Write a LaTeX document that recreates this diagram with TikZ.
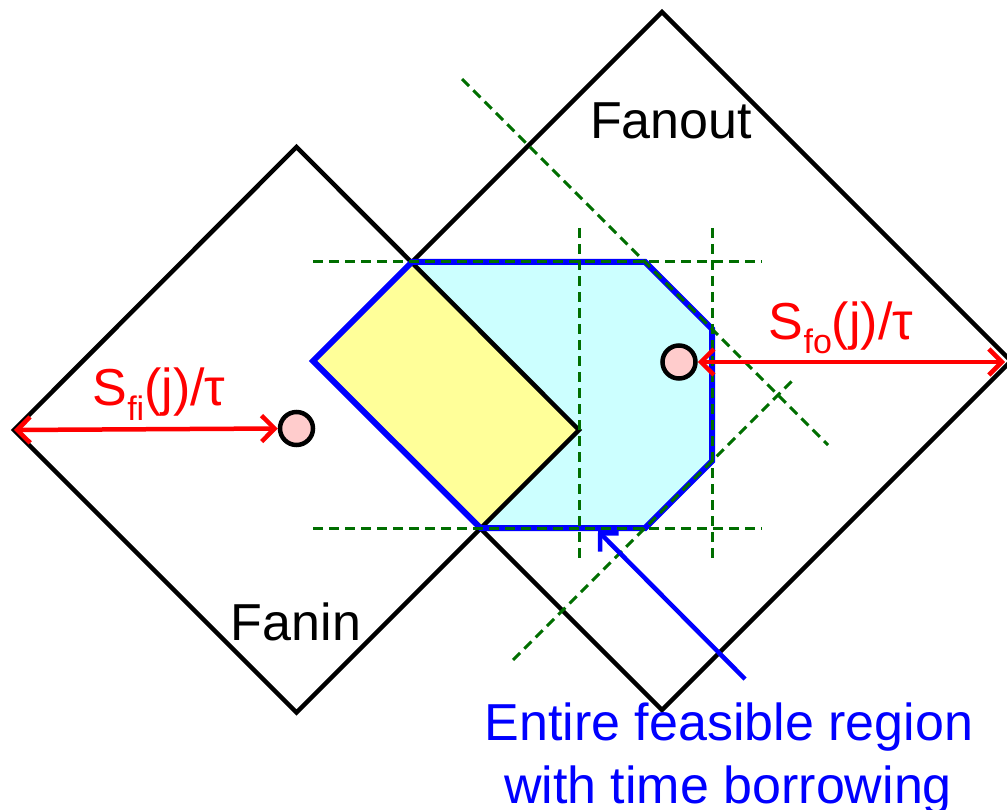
\documentclass[tikz,border=0pt]{standalone}
\usepackage{fontspec}
\setmainfont{Liberation Sans}
\usetikzlibrary{arrows.meta}
\definecolor{cyanfill}{RGB}{204,255,255}
\definecolor{yellowfill}{RGB}{255,255,153}
\definecolor{pinkfill}{RGB}{255,204,204}
\definecolor{dkgreen}{RGB}{0,110,0}
\tikzset{
  diamondline/.style={draw=black, line width=4.5pt, line join=miter},
  guide/.style={draw=dkgreen, line width=3pt, dash pattern=on 10pt off 6pt},
  regionline/.style={draw=blue, line width=6pt, line join=miter},
  dot/.style={circle, draw=black, fill=pinkfill, line width=4.5pt, minimum size=33pt, inner sep=0pt},
  redarrow/.style={draw=red, line width=4.5pt, {Straight Barb[length=13pt,width=26pt]}-{Straight Barb[length=13pt,width=26pt]}},
  bluearrow/.style={draw=blue, line width=4.5pt, -{Straight Barb[length=13pt,width=26pt]}},
  lbl/.style={font=\fontsize{52}{63}\selectfont, inner sep=0pt, anchor=base},
}
\newcommand{\subtxt}[1]{\raisebox{-14pt}{\fontsize{34}{34}\selectfont #1}}
\begin{document}
\begin{tikzpicture}[x=1pt,y=-1pt]
\useasboundingbox (0,0) rectangle (1007,810);
% coordinates
\coordinate (fiL) at (14,430);
\coordinate (fiT) at (296.5,147);
\coordinate (fiR) at (579,430);
\coordinate (fiB) at (296.5,712.5);
\coordinate (foL) at (313,361);
\coordinate (foT) at (662,12);
\coordinate (foR) at (1011,361);
\coordinate (foB) at (662,710);
\coordinate (p1) at (412,262);
\coordinate (p2) at (645,262);
\coordinate (p3) at (712,329);
\coordinate (p4) at (712,461);
\coordinate (p5) at (645,528);
\coordinate (p6) at (480.5,528);
% fills
\fill[cyanfill] (foL) -- (p1) -- (p2) -- (p3) -- (p4) -- (p5) -- (p6) -- cycle;
\fill[yellowfill] (foL) -- (p1) -- (fiR) -- (p6) -- cycle;
% diamonds
\draw[diamondline] (fiL) -- (fiT) -- (fiR) -- (fiB) -- cycle;
\draw[diamondline] (foL) -- (foT) -- (foR) -- (foB) -- cycle;
% region outline
\draw[regionline] (foL) -- (p1) -- (p2) -- (p3) -- (p4) -- (p5) -- (p6) -- cycle;
% guides
\coordinate (h1a) at (313,262); \coordinate (h1b) at (762,262);
\coordinate (h2a) at (313,528); \coordinate (h2b) at (762,528);
\coordinate (v1a) at (579,228); \coordinate (v1b) at (579,560);
\coordinate (v2a) at (712,228); \coordinate (v2b) at (712,560);
\coordinate (d1a) at (462,79);  \coordinate (d1b) at (828,445);
\coordinate (d2a) at (513,660); \coordinate (d2b) at (795,378);
\draw[guide] (h1a) -- (h1b);
\draw[guide] (h2a) -- (h2b);
\draw[guide] (v1a) -- (v1b);
\draw[guide] (v2a) -- (v2b);
\draw[guide] (d1a) -- (d1b);
\draw[guide] (d2a) -- (d2b);
% dots
\node[dot] (ci) at (296.5,428.5) {};
\node[dot] (co) at (679,362) {};
% red arrows
\coordinate (coR) at (1005,362);
\draw[redarrow] (fiL) -- (ci.west);
\draw[redarrow] (co.east) -- (coR);
% labels
\node[lbl, text=red] (sfi) at (159,406) {S\subtxt{fi}(j)/τ};
\node[lbl, text=red] (sfo) at (841,340) {S\subtxt{fo}(j)/τ};
\node[lbl] (fanout) at (671,139) {Fanout};
\node[lbl] (fanin) at (296,640) {Fanin};
\node[lbl, text=blue] (note1) at (729,740) {Entire feasible region};
\node[lbl, text=blue] (note2) at (728,803) {with time borrowing};
% blue arrow
\coordinate (ba) at (745,679);
\coordinate (bt) at (598,531);
\draw[bluearrow] (ba) -- (bt);
\end{tikzpicture}
\end{document}
